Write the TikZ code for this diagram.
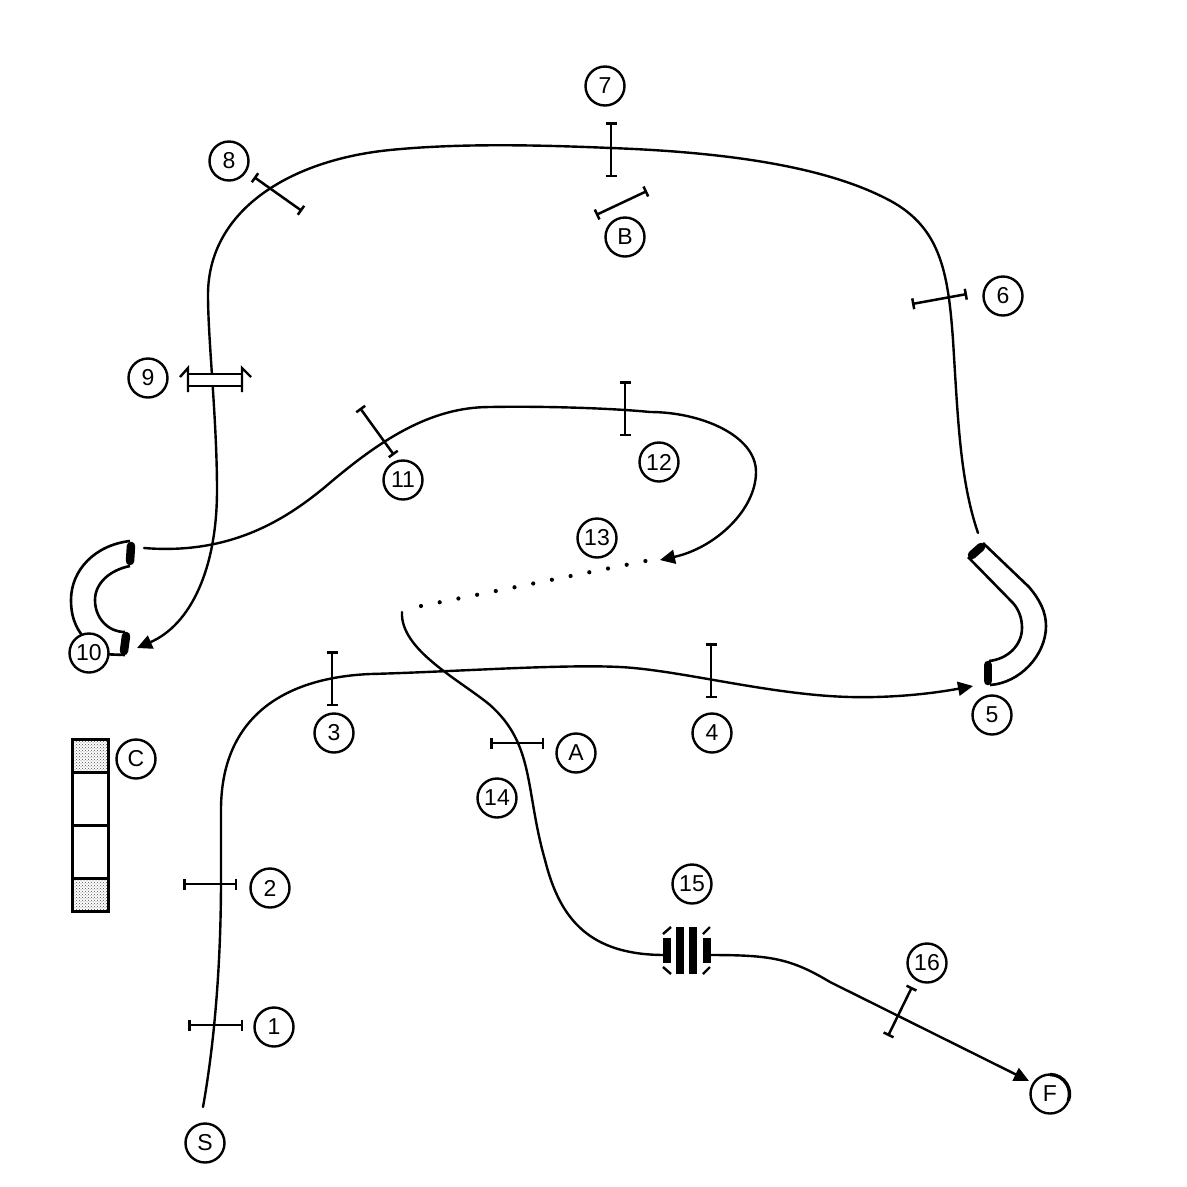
\documentclass[tikz,border=0pt]{standalone}
\usepackage{fontspec}
\setmainfont{Liberation Sans}
\usetikzlibrary{arrows.meta,patterns}
\tikzset{
  lbl/.style={circle,draw=black,line width=2.4pt,fill=white,minimum size=39pt,inner sep=0pt,font=\fontsize{23}{25}\selectfont},
  curve/.style={line width=2.4pt,line cap=round,line join=round},
  arrowed/.style={curve,-{Triangle[length=15pt,width=14pt]}},
  tick/.style={line width=2.5pt,{Bar[width=11pt,line width=2.5pt]}-{Bar[width=11pt,line width=2.5pt]}},
  thin elbow/.style={line width=2.6pt,line join=round},
  cuff/.style={line width=8.5pt,line cap=round},
  box/.style={line width=3pt,draw=black},
  solidbar/.style={fill=black,draw=none},
  slash/.style={line width=2.4pt},
  dotmark/.style={circle,fill=black,draw=none,minimum size=4.2pt,inner sep=0pt}
}
\begin{document}
\begin{tikzpicture}[x=1pt,y=-1pt]
\useasboundingbox (0,0) rectangle (1187,1187);
\fill[white] (0,0) rectangle (1187,1187);
% free ends
\coordinate (sA) at (203,1107);
\coordinate (eA) at (973,686);
\coordinate (sB) at (978,533);
\coordinate (eB) at (137,648);
\coordinate (sC) at (144,548);
\coordinate (eC) at (660,560);
\coordinate (sD) at (402,612);
\coordinate (eD) at (665,955);
\coordinate (sE) at (709,955);
\coordinate (eE) at (1029,1081);
% curves
\draw[arrowed] (sA) .. controls (215,1040) and (221,960) .. (221,880) -- (221,810) .. controls (221,720) and (280,678) .. (370,674) .. controls (450,672) and (560,664) .. (620,667) .. controls (680,670) and (770,695) .. (850,697) .. controls (890,698) and (930,694) .. (eA);
\draw[arrowed] (sB) .. controls (960,480) and (958,420) .. (953,340) .. controls (948,270) and (940,225) .. (885,198) .. controls (820,165) and (720,152) .. (611,148) .. controls (540,145) and (460,143) .. (390,150) .. controls (290,160) and (208,210) .. (208,295) .. controls (208,340) and (217,420) .. (217,490) .. controls (217,570) and (190,625) .. (eB);
\draw[arrowed] (sC) .. controls (230,555) and (285,520) .. (325,487) .. controls (380,440) and (430,407) .. (490,407) .. controls (540,406) and (610,408) .. (650,412) .. controls (700,412) and (756,435) .. (756,472) .. controls (756,510) and (715,548) .. (eC);
\draw[curve] (sD) .. controls (400,650) and (460,680) .. (490,705) .. controls (535,745) and (525,790) .. (545,860) .. controls (560,920) and (590,955) .. (eD);
\draw[arrowed] (sE) .. controls (770,955) and (790,958) .. (830,982) -- (eE);
% dotted run
\foreach \i in {0,...,12} {
  \node[dotmark] (dot\i) at ({421+\i*18.7},{606-\i*3.75}) {};
}
% ticks
\draw[tick] (611,122) -- (611,177);
\draw[tick] (254,177) -- (302,211);
\draw[tick] (596,215) -- (647,191);
\draw[tick] (912,304) -- (967,294);
\draw[tick] (360,408) -- (394,455);
\draw[tick] (625,381) -- (625,436);
\draw[tick] (332,651) -- (332,706);
\draw[tick] (711,643) -- (711,698);
\draw[tick] (490,743) -- (544,743);
\draw[tick] (183,884) -- (237,884);
\draw[tick] (188,1025) -- (243,1025);
\draw[tick] (912,987) -- (888,1036);
% item 9
\fill[white] (188,374) rectangle (242,386);
\draw[line width=2.4pt] (180,377) -- (188,368) -- (188,392);
\draw[line width=2.4pt] (251,377) -- (242,368) -- (242,392);
\draw[line width=2.4pt] (188,374) -- (242,374) (188,386) -- (242,386);
% elbow 10
\draw[thin elbow] (130,541) .. controls (95,545) and (71,570) .. (71,600) .. controls (71,620) and (78,632) .. (88,642);
\draw[thin elbow] (130,566) .. controls (110,570) and (95,583) .. (95,600) .. controls (95,618) and (108,632) .. (125,632);
\draw[thin elbow] (100,654) -- (125,655);
\draw[cuff] (131,546) -- (130,561);
\draw[cuff] (126,636) -- (124,651);
% elbow 5
\draw[thin elbow] (983,543) -- (1029,587) .. controls (1040,600) and (1046,612) .. (1046,626) .. controls (1046,655) and (1020,683) .. (990,685);
\draw[thin elbow] (968,557) -- (1013,603) .. controls (1020,611) and (1022,620) .. (1022,628) .. controls (1022,645) and (1008,659) .. (989,661);
\draw[cuff] (972,555) -- (981,547);
\draw[cuff] (988,665) -- (988,681);
% item 15
\fill[solidbar] (663,938) rectangle (671,963);
\fill[solidbar] (703,938) rectangle (711,963);
\fill[solidbar] (676,927) rectangle (684,974);
\fill[solidbar] (689,927) rectangle (697,974);
\draw[slash] (663,934) -- (671,927);
\draw[slash] (703,934) -- (710,927);
\draw[slash] (663,967) -- (671,974);
\draw[slash] (703,974) -- (710,967);
% item C
\draw[box,pattern=crosshatch dots,pattern color=black!70] (72,739) rectangle (108,772);
\draw[box,pattern=crosshatch dots,pattern color=black!70] (72,878) rectangle (108,911);
\draw[box] (72,772) rectangle (108,878);
\draw[box] (72,825) -- (108,825);
% labels
\node[lbl] (n1) at (274,1027) {1};
\node[lbl] (n2) at (270,888) {2};
\node[lbl] (n3) at (334,733) {3};
\node[lbl] (n4) at (712,733) {4};
\node[lbl] (n5) at (992,715) {5};
\node[lbl] (n6) at (1003,296) {6};
\node[lbl] (n7) at (605,86) {7};
\node[lbl] (n8) at (229,161) {8};
\node[lbl] (n9) at (148,378) {9};
\node[lbl] (n10) at (89,653) {10};
\node[lbl] (n11) at (403,480) {11};
\node[lbl] (n12) at (659,462) {12};
\node[lbl] (n13) at (597,538) {13};
\node[lbl] (n14) at (497,798) {14};
\node[lbl] (n15) at (692,884) {15};
\node[lbl] (n16) at (927,963) {16};
\node[lbl] (nA) at (576,753) {A};
\node[lbl] (nB) at (625,237) {B};
\node[lbl] (nC) at (136,759) {C};
\node[lbl] (nS) at (205,1143) {S};
\node[lbl] (nF) at (1050,1094) {F};
\draw[line width=3.4pt] (1050,1074.5) arc[start angle=-90,end angle=20,radius=19.5];
\end{tikzpicture}
\end{document}
